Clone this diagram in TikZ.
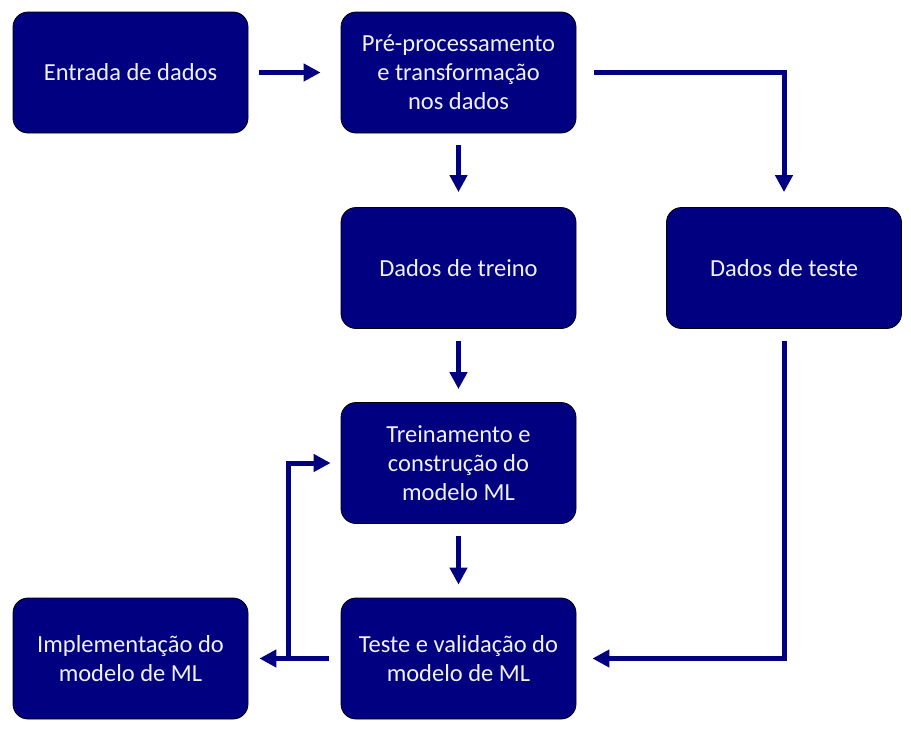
\documentclass[tikz,border=0pt]{standalone}
\usepackage{fontspec}
\setmainfont{Carlito}
\usetikzlibrary{arrows.meta}
\definecolor{boxblue}{RGB}{0,0,128}
\definecolor{txt}{RGB}{240,240,240}
\begin{document}
\begin{tikzpicture}[x=1pt,y=-1pt,
  box/.style={draw=black,line width=0.8pt,fill=boxblue,rounded corners=15pt,
    minimum width=235pt,minimum height=121pt,align=center,text=txt,
    font=\fontsize{24.5pt}{29pt}\selectfont,inner sep=0pt},
  conn/.style={draw=boxblue,line width=5pt,-{Triangle[length=17pt,width=17pt]}}]
\useasboundingbox (0,0) rectangle (911,729);
\node[box] (in) at (130.5,72.5) {Entrada de dados};
\node[box] (pre) at (458.5,72.5) {Pré-processamento\\e transformação\\nos dados};
\node[box] (tr) at (458.5,268) {Dados de treino};
\node[box] (te) at (784,268) {Dados de teste};
\node[box] (mod) at (458.5,463) {Treinamento e\\construção do\\modelo ML};
\node[box] (val) at (458.5,658.5) {Teste e validação do\\modelo de ML};
\node[box] (imp) at (130.5,658.5) {Implementação do\\modelo de ML};
\coordinate (br) at (288,658.5);
\draw[conn,shorten <=11pt,shorten >=20pt] (in.east) -- (pre.west);
\draw[conn,shorten <=12pt,shorten >=15pt] (pre.south) -- (tr.north);
\draw[conn,shorten <=18pt,shorten >=15pt] (pre.east) -| (te.north);
\draw[conn,shorten <=12pt,shorten >=13pt] (tr.south) -- (mod.north);
\draw[conn,shorten <=12pt,shorten >=13pt] (mod.south) -- (val.north);
\draw[conn,shorten <=12pt,shorten >=16pt] (te.south) |- (val.east);
\draw[conn,shorten <=12pt,shorten >=11pt] (val.west) -- (imp.east);
\draw[conn,shorten >=10pt] (br) |- (mod.west);
\end{tikzpicture}
\end{document}
